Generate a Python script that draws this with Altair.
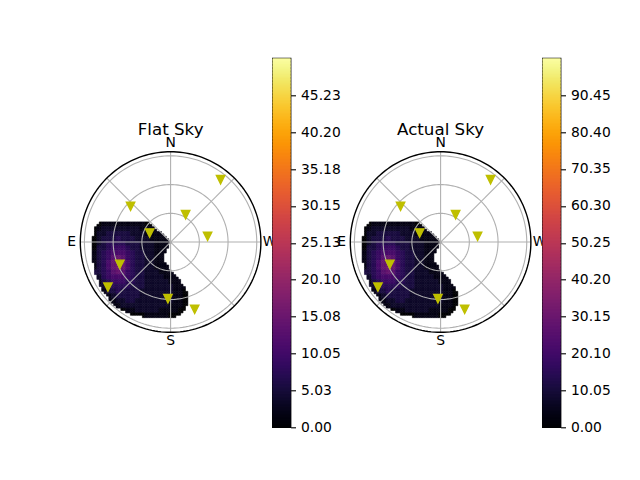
import altair as alt
import numpy as np
import pandas as pd

# ---------------- data ----------------
# observation markers: azimuth (deg, N=0, E=90) and zenith distance (deg)
MARKER_AZ = [321.3, 48.3, 331.2, 66.8, 278.8, 113.7, 125.7, 177.3, 199.7]
MARKER_ZEN = [83.5, 56.0, 32.6, 23.8, 39.1, 57.9, 80.6, 59.2, 74.6]

# intensity levels on a 5-degree grid (E to the left; '.' = no level read)
LEVEL_X0, LEVEL_Y0, LEVEL_CELL = -82.0, 21.0, 5.0
LEVEL_ROWS = [
    ".01111.11110........",
    "0122222222111.......",
    "022333332221111.....",
    "0233343332221111....",
    "0234444333222111....",
    "0334555433222111....",
    "134566654332211.....",
    "134578754332211.....",
    "134689864332211.....",
    "1346898643322111....",
    ".3457875433222111...",
    ".24566654332222111..",
    ".134555443322222111.",
    "..23444433322222211.",
    "..133433332222222110",
    "...12333332222222110",
    "....1223322222222110",
    ".....122222222221110",
    "......0112222211110.",
    ".........001111100..",
]
# extent of the mapped region, one row per 2.5 degrees (row centre, west-east limits)
MASK_ROW_Y = [19.75, 17.25, 14.75, 12.25, 9.75, 7.25, 4.75, 2.25, -0.25, -2.75,
              -5.25, -7.75, -10.25, -12.75, -15.25, -17.75, -20.25, -22.75, -25.25, -27.75,
              -30.25, -32.75, -35.25, -37.75, -40.25, -42.75, -45.25, -47.75, -50.25, -52.75,
              -55.25, -57.75, -60.25, -62.75, -65.25, -67.75, -70.25, -72.75, -75.25, -77.75]
MASK_LEFT = [-74.0, -76.7, -78.4, -80.1, -80.4, -80.7, -81.0, -81.3, -81.7, -81.8,
             -81.7, -81.6, -81.5, -81.4, -81.3, -81.2, -81.0, -80.4, -79.9, -79.4,
             -78.9, -78.4, -77.5, -76.5, -75.6, -74.7, -73.7, -72.6, -70.8, -69.1,
             -67.3, -65.6, -63.3, -60.8, -58.3, -55.8, -52.4, -47.4, -42.3, -29.5]
MASK_RIGHT = [-22.0, -19.0, -16.2, -13.5, -10.7, -8.0, -5.2, -2.5, -0.2, -1.6,
              -3.1, -4.2, -5.1, -6.1, -7.1, -6.6, -5.9, -4.9, -3.1, -1.3,
              0.65, 3.15, 5.65, 7.9, 9.8, 11.7, 13.6, 14.9, 16.1, 17.4,
              18.0, 18.4, 18.7, 18.3, 17.7, 16.4, 14.7, 13.0, 11.3, 4.5]
FINE_CELL = 2.5
FINE_COL_X = [-80.75 + FINE_CELL * k for k in range(41)]

FLAT_LEVEL_VALUE = 1.8
ACTUAL_LEVEL_VALUE = 3.6

FLAT_MAX = 50.26
FLAT_TICKS = [0.00, 5.03, 10.05, 15.08, 20.10, 25.13, 30.15, 35.18, 40.20, 45.23]
ACTUAL_MAX = 100.50
ACTUAL_TICKS = [0.00, 10.05, 20.10, 30.15, 40.20, 50.25, 60.30, 70.35, 80.40, 90.45]

RINGS = [30, 60, 90]
SPOKES = [0, 45, 90, 135, 180, 225, 270, 315]
R_MAX = 94.3
DIR_LABELS = ["N", "E", "S", "W"]
DIR_AZ = [0, 90, 180, 270]

FONT = "DejaVu Sans"
PANEL_W, PANEL_H, CB_W = 180, 369, 18
PX_PER_UNIT = PANEL_W / 188.0
EXTRA_W = 48  # extra room on the left of the second polar panel

ys = alt.Scale(domain=[-193.5, 191.9], nice=False, zero=False)


# ---------------- helper tables ----------------
def level_at(xc, yc):
    i = int((xc - LEVEL_X0) // LEVEL_CELL)
    j = int((LEVEL_Y0 - yc) // LEVEL_CELL)
    j = min(max(j, 0), len(LEVEL_ROWS) - 1)
    row = LEVEL_ROWS[j]
    i = min(max(i, 0), len(row) - 1)
    if row[i] != ".":
        return int(row[i])
    # nearest read level in the same row
    best = None
    for k, ch in enumerate(row):
        if ch != "." and (best is None or abs(k - i) < abs(best - i)):
            best = k
    return int(row[best]) if best is not None else 0


cells = []
for yc, lo, hi in zip(MASK_ROW_Y, MASK_LEFT, MASK_RIGHT):
    for xc in FINE_COL_X:
        if lo <= xc <= hi:
            cells.append({"cx": xc, "cy": yc, "level": level_at(xc, yc)})
cells = pd.DataFrame(cells)

ang = np.arange(0, 361, 2)
ring_df = pd.DataFrame([{"ring": r, "t": t} for r in RINGS + [R_MAX] for t in ang])
spoke_df = pd.DataFrame({"az": SPOKES, "r": R_MAX})
marker_df = pd.DataFrame({"az": MARKER_AZ, "zen": MARKER_ZEN})
label_df = pd.DataFrame({"txt": DIR_LABELS, "az": DIR_AZ, "r": 103.4})

TRI = "M-1,-1L1,-1L0,1Z"
H = FINE_CELL / 2


def polar_panel(title, level_value, vmax, extra=0):
    xs = alt.Scale(domain=[-94 - extra / PX_PER_UNIT, 94], nice=False, zero=False)
    X = lambda f: alt.X(f, scale=xs, axis=None)
    Y = lambda f: alt.Y(f, scale=ys, axis=None)
    cscale = alt.Scale(scheme="inferno", domain=[0, vmax])
    heat = alt.Chart(cells).transform_calculate(
        v=f"datum.level*{level_value}",
        x1=f"datum.cx-{H}", x2=f"datum.cx+{H}", y1=f"datum.cy-{H}", y2=f"datum.cy+{H}",
    ).mark_rect(strokeWidth=0.6).encode(
        x=X("x1:Q"), x2="x2:Q", y=Y("y1:Q"), y2="y2:Q",
        color=alt.Color("v:Q", scale=cscale, legend=None),
        stroke=alt.Stroke("v:Q", scale=cscale, legend=None),
    )
    circ = alt.Chart(ring_df).transform_calculate(
        px="datum.ring*cos(datum.t*PI/180)", py="datum.ring*sin(datum.t*PI/180)"
    )
    grid_rings = circ.transform_filter(f"datum.ring < {R_MAX}").mark_line(
        color="#b0b0b0", strokeWidth=1.1
    ).encode(x=X("px:Q"), y=Y("py:Q"), detail="ring:N", order="t:Q")
    spine = circ.transform_filter(f"datum.ring >= {R_MAX}").mark_line(
        color="black", strokeWidth=1.4
    ).encode(x=X("px:Q"), y=Y("py:Q"), detail="ring:N", order="t:Q")
    spokes = alt.Chart(spoke_df).transform_calculate(
        x0="0", y0="0",
        px="-datum.r*sin(datum.az*PI/180)", py="datum.r*cos(datum.az*PI/180)",
    ).mark_rule(color="#b0b0b0", strokeWidth=1.1).encode(
        x=X("x0:Q"), y=Y("y0:Q"), x2="px:Q", y2="py:Q",
    )
    marks = alt.Chart(marker_df).transform_calculate(
        px="-datum.zen*sin(datum.az*PI/180)", py="datum.zen*cos(datum.az*PI/180)"
    ).mark_point(shape=TRI, filled=True, fill="#bfbf00", stroke="#bfbf00",
                 strokeWidth=1.4, size=70, opacity=1).encode(x=X("px:Q"), y=Y("py:Q"))
    labels = alt.Chart(label_df).transform_calculate(
        px="-datum.r*sin(datum.az*PI/180)", py="datum.r*cos(datum.az*PI/180)"
    ).mark_text(font=FONT, fontSize=13.9, color="black", align="center",
                baseline="middle").encode(x=X("px:Q"), y=Y("py:Q"), text="txt:N")
    ttl = alt.Chart(pd.DataFrame({"txt": [title], "az": [0], "r": [111.5]})).transform_calculate(
        px="-datum.r*sin(datum.az*PI/180)", py="datum.r*cos(datum.az*PI/180)"
    ).mark_text(font=FONT, fontSize=16.7, color="black", align="center",
                baseline="alphabetic").encode(x=X("px:Q"), y=Y("py:Q"), text="txt:N")
    return alt.layer(heat, grid_rings, spokes, spine, marks, labels, ttl).properties(
        width=PANEL_W + extra, height=PANEL_H
    )


def colorbar(vmax, ticks):
    v = np.linspace(0, vmax, 257)[:-1]
    step = vmax / 256
    df = pd.DataFrame({"v": v, "v2": np.minimum(v + 1.6 * step, vmax)})
    cscale = alt.Scale(scheme="inferno", domain=[0, vmax])
    return alt.Chart(df).mark_rect(strokeWidth=0).encode(
        x=alt.value(0), x2=alt.value(CB_W),
        y=alt.Y("v:Q", scale=alt.Scale(domain=[0, vmax], nice=False, zero=False),
                axis=alt.Axis(orient="right", values=ticks, format=".2f", title=None,
                              grid=False, domain=False, tickColor="black", tickSize=4.9,
                              tickWidth=1.1, labelColor="black", labelFont=FONT,
                              labelFontSize=13.9, labelPadding=5.0, labelOverlap=False)),
        y2="v2:Q",
        color=alt.Color("v:Q", scale=cscale, legend=None),
    ).properties(width=CB_W, height=PANEL_H,
                 view=alt.ViewBackground(stroke="black", strokeWidth=1.4))


chart = alt.hconcat(
    polar_panel("Flat Sky", FLAT_LEVEL_VALUE, FLAT_MAX),
    colorbar(FLAT_MAX, FLAT_TICKS),
    polar_panel("Actual Sky", ACTUAL_LEVEL_VALUE, ACTUAL_MAX, extra=EXTRA_W),
    colorbar(ACTUAL_MAX, ACTUAL_TICKS),
    spacing=12, bounds="flush",
).resolve_scale(
    color="independent", stroke="independent"
).properties(
    padding={"left": 58.6, "top": 49.3, "right": 0, "bottom": 0},
    background="white",
).configure_view(stroke="transparent", strokeWidth=0)

chart.save("out.html", embed_options={"renderer": "svg", "actions": False})
